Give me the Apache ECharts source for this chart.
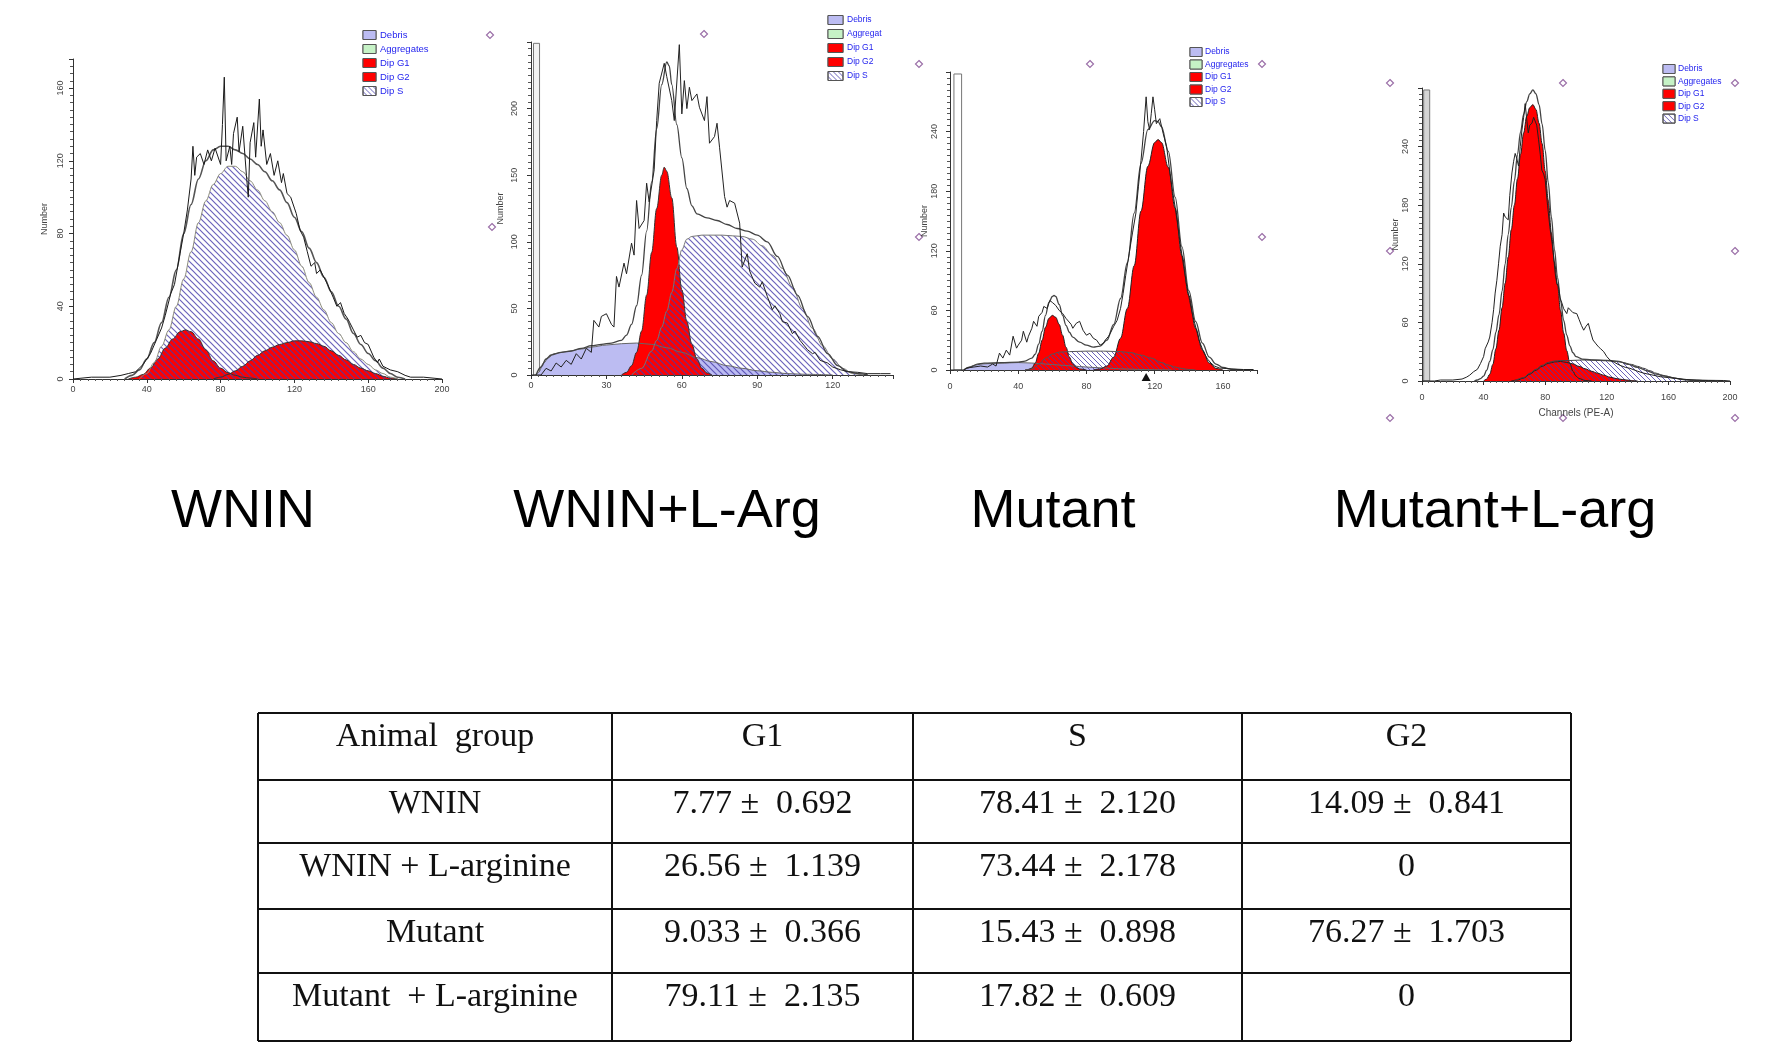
<!DOCTYPE html>
<html><head><meta charset="utf-8">
<script src="https://cdn.jsdelivr.net/npm/echarts@6/dist/echarts.min.js"></script>
<style>html,body{margin:0;padding:0;background:#fff}#c{width:1772px;height:1054px}</style>
</head><body><div id="c"></div>
<script>
// ---------------- DATA ----------------
const panelTitles = ['WNIN', 'WNIN+L-Arg', 'Mutant', 'Mutant+L-arg'];
const legendLabels = [['Debris','Aggregates','Dip G1','Dip G2','Dip S'],['Debris','Aggregat','Dip G1','Dip G2','Dip S'],['Debris','Aggregates','Dip G1','Dip G2','Dip S'],['Debris','Aggregates','Dip G1','Dip G2','Dip S']];
const yAxisName = 'Number';
const xAxisName4 = 'Channels (PE-A)';

const p1XTicks = [0, 40, 80, 120, 160, 200];
const p1YTicks = [0, 40, 80, 120, 160];
const p2XTicks = [0, 30, 60, 90, 120];
const p2YTicks = [0, 50, 100, 150, 200];
const p3XTicks = [0, 40, 80, 120, 160];
const p3YTicks = [0, 60, 120, 180, 240];
const p4XTicks = [0, 40, 80, 120, 160, 200];
const p4YTicks = [0, 60, 120, 180, 240];

// Panel 1 : WNIN
const p1Raw = [[0,0],[10,1],[20,1],[26,2],[30,3],[34,4],[38,8],[42,14],[45,21],[48,28],[50,35],[53,47],[55,52],[58,69],[60,80],[62,93],[64,110],[65,128],[66,112],[67,122],[69,124],[71,118],[73,126],[75,120],[77,127],[78,126],[80,118],[81,140],[82,166],[83,120],[85,128],[86,118],[87,135],[89,144],[90,125],[92,139],[94,112],[95,100],[96,130],[98,141],[99,122],[101,154],[102,128],[103,137],[105,118],[107,124],[109,112],[111,120],[113,108],[114,113],[116,102],[118,100],[120,94],[121,91],[123,82],[125,78],[127,70],[129,62],[131,64],[132,58],[134,60],[136,56],[138,52],[139,51],[141,45],[143,40],[145,42],[147,36],[149,33],[150,31],[152,27],[154,23],[156,24],[158,20],[160,19],[161,18],[163,12],[165,9],[166,11],[168,7],[170,6],[172,5],[176,4],[180,2],[183,1],[190,1],[200,0]];
const p1Fit = [[28,0],[32,2],[36,5],[40,11],[44,20],[48,31],[52,45],[56,60],[60,80],[64,96],[68,110],[72,120],[76,126],[80,128],[84,128],[88,126],[92,124],[96,121],[100,118],[104,114],[108,109],[112,104],[116,97],[120,89],[124,81],[128,72],[132,64],[136,56],[140,48],[144,40],[148,33],[152,25],[156,19],[160,14],[164,10],[168,6],[172,3],[176,1],[180,0]];
const p1G1 = [[30,0],[34,1],[38,2.5],[42,6],[46,11],[50,17],[54,22],[58,26],[61,27],[64,26],[68,22],[72,16],[76,10],[80,6],[84,3.5],[88,2],[92,1],[96,0.5],[100,0]];
const p1G2 = [[76,0],[80,1],[84,2.5],[88,4.5],[92,7],[96,10],[100,13],[104,15.5],[108,17.5],[112,19],[116,20],[120,21],[124,21],[128,20.5],[132,19.5],[136,18],[140,15.5],[144,13],[148,10.5],[152,8],[156,6],[160,4.5],[164,3],[168,1.5],[172,0.5],[176,0]];
const p1S = [[36,0],[40,3],[44,9],[48,18],[52,27],[56,40],[60,55],[64,70],[68,86],[72,98],[76,107],[80,113],[84,117],[88,117],[92,114],[96,109],[100,104],[104,98],[108,92],[112,86],[116,79],[120,71],[124,62],[128,53],[132,45],[136,38],[140,31],[144,25],[148,20],[152,15],[156,11],[160,8],[164,5],[168,3],[172,1],[176,0]];

// Panel 2 : WNIN + L-Arg
const p2Raw = [[0,0],[4,0],[6,5],[8,3],[10,9],[12,6],[14,11],[16,8],[18,16],[20,12],[22,20],[24,17],[25,41],[27,36],[28,44],[30,46],[32,38],[33,36],[34,74],[35,66],[37,84],[38,76],[40,99],[41,90],[42,131],[43,110],[45,116],[46,144],[47,130],[49,154],[50,191],[51,219],[53,234],[54,224],[56,206],[57,191],[59,248],[60,196],[61,221],[62,200],[63,216],[64,206],[66,211],[67,201],[69,191],[70,209],[71,174],[73,179],[74,189],[75,171],[77,134],[78,126],[79,131],[81,129],[83,114],[84,81],[86,91],[87,78],[89,69],[91,66],[92,70],[94,59],[96,49],[97,52],[99,46],[100,40],[102,39],[104,31],[105,33],[107,26],[110,19],[112,16],[113,17],[115,11],[118,9],[120,6],[123,4],[126,2.5],[130,2],[134,1],[139,1],[143,1]];
const p2Fit = [[2,0],[4,6],[6,12],[8,15],[12,17],[16,18],[20,20],[24,22],[28,23],[32,24],[36,26],[38,30],[40,38],[42,52],[44,75],[46,108],[48,145],[50,185],[52,218],[54,235],[55,232],[56,218],[58,188],[60,163],[62,140],[64,127],[66,121],[70,118],[74,116],[78,113],[82,110],[86,108],[90,105],[94,100],[98,89],[102,75],[106,60],[110,44],[114,29],[118,16],[122,7],[126,2.5],[130,1],[134,0]];
const p2Debris = [[2,0],[3,2],[5,9],[7,13],[9,16],[14,17.5],[20,19.5],[24,21],[30,22.5],[36,23.5],[42,24],[48,23],[54,20.5],[60,17],[66,13],[72,10],[78,7],[84,5],[90,3.2],[96,2],[102,1],[110,0.5],[120,0]];
const p2G1 = [[36,0],[38,2],[40,7],[42,17],[44,33],[46,60],[48,92],[50,125],[52,150],[53,156],[54,153],[56,133],[58,96],[60,64],[62,40],[64,23],[66,12],[68,5],[70,1.5],[72,0]];
const p2S = [[40,0],[44,5],[48,18],[50,26],[52,36],[54,48],[56,62],[58,80],[60,94],[62,102],[64,104],[68,105],[76,105],[84,104],[88,102],[92,97],[96,90],[100,80],[104,66],[108,50],[112,35],[116,22],[120,12],[124,5],[128,1],[132,0]];
const p2Gate = [1, 3.4];

// Panel 3 : Mutant
const p3Raw = [[0,0],[8,0],[10,2],[14,3],[18,4],[22,3],[25,6],[27,4],[29,17],[31,12],[33,20],[35,15],[37,34],[39,22],[40,25],[42,30],[43,39],[45,28],[46,34],[48,42],[49,49],[51,44],[52,54],[54,58],[55,64],[57,62],[58.5,70],[60,68],[62,65],[64,60],[66,57],[68,52],[69,50],[71,46],[72,42],[74,47],[76,49],[78,40],[80,35],[82,37],[84,32],[86,30],[88,25],[90,27],[91,30],[93,34],[94,37],[96,44],[98,50],[100,62],[101.5,77],[103,95],[105,117],[107,138],[109,158],[110.5,185],[112,211],[113.5,240],[115,275],[116,250],[117,242],[118,258],[119,275],[120,262],[121,248],[123,253],[125,238],[127,225],[129,198],[130.5,180],[132,164],[134,140],[135,127],[137,104],[138.5,88],[140.5,70],[142,57],[143.5,47],[145,37],[146,30],[148,21],[149,17],[151,11],[153,7],[155,4],[158,2],[162,1.5],[166,1],[172,0.5],[178,0.5]];
const p3Fit = [[8,0],[12,3],[16,6],[20,7],[30,7.5],[40,8],[44,9],[48,12],[50,16],[52,26],[54,39],[56,55],[58,68],[60,74],[61,75],[62,74],[64,66],[66,55],[68,45],[70,38],[72,33],[76,28],[80,25],[84,23],[88,24],[92,30],[96,46],[100,72],[104,108],[108,158],[112,208],[116,242],[120,251],[122,250],[124,245],[128,220],[132,174],[136,124],[140,80],[144,49],[148,27],[152,13],[156,6],[160,2.5],[166,0.5],[172,0]];
const p3Debris = [[8,0],[10,2],[14,4.5],[18,6],[24,6.5],[32,7],[40,7.5],[48,7],[56,6],[64,5],[72,4],[80,3],[90,2],[100,1.2],[110,0.6],[120,0.3],[130,0]];
const p3G1 = [[44,0],[46,0.5],[48,2],[50,7],[52,17],[54,30],[56,43],[58,52],[60,55],[62,53],[64,46],[66,35],[68,23],[70,13],[72,6],[74,2.5],[76,1],[80,0]];
const p3G2 = [[84,0],[88,1],[92,4],[96,13],[100,32],[104,62],[108,105],[112,160],[116,205],[120,229],[122,232],[124,229],[128,204],[132,163],[136,115],[140,75],[144,42],[148,20],[152,7],[156,1.5],[160,0]];
const p3S = [[44,0],[48,1],[52,6],[56,12],[60,16],[64,18],[70,18.5],[80,19],[90,19],[100,18.5],[106,17.5],[112,15],[118,12],[124,7.5],[128,5],[132,3],[136,1.5],[140,0.5],[144,0]];
const p3Gate = [2.3, 6.8];
const p3Marker = 115;

// Panel 4 : Mutant + L-arg
const p4Raw = [[0,0],[8,0],[12,1],[20,1],[26,2],[29,4],[31,6],[33.5,9.5],[36,12],[38,18],[40,25],[41,33],[43,40],[44,45],[45.5,60],[46.5,73],[47.5,90],[48.6,103],[49.7,120],[50.8,138],[52,150],[53,172],[54,168],[56,165],[57,190],[58.4,213],[59.5,225],[60.5,233],[61.5,228],[62.7,220],[63.8,240],[64.9,257],[66,270],[67,284],[68,268],[69,254],[70,262],[71.4,264],[72.5,270],[73.5,271],[74.5,262],[75.7,247],[76.8,232],[77.8,216],[79,212],[80,206],[81.5,180],[83,158],[85,135],[86.5,110],[87.5,100],[88.6,97],[89.7,85],[90.8,80],[92,74],[93,72],[94,69],[95,75],[96,73],[98,70],[100.5,69],[102,63],[103.5,57],[105,52],[106.5,56],[108,59],[109.5,50],[111,42],[113,38],[114.6,35],[116,33],[118,30],[120,25],[122,21.5],[125,19],[128.6,16],[132,14],[135,13],[140,10],[144,8],[150,6],[154.6,4.4],[160,3.5],[165,2.7],[172,1.5],[178,1],[186,0.7],[196,0.5],[200,0]];
const p4Fit = [[34,0],[36,1],[38,2.5],[40,5],[42,11],[44,20],[46,32],[48,50],[50,68],[52,92],[54,120],[56,150],[58,178],[60,205],[62,232],[64,255],[66,273],[68,286],[70,294],[72,298],[74,294],[76,283],[78,263],[80,236],[82,203],[84,168],[86,135],[88,106],[90,82],[92,62],[94,47],[96,36],[98,29],[100,25],[104,22.5],[110,21.5],[120,21],[128,20],[134,17],[140,14],[146,10.5],[152,7],[158,5],[164,3],[170,1.5],[176,0.8],[184,0.3],[190,0]];
const p4G1 = [[40,0],[42,2],[44,7],[46,17],[48,33],[50,52],[52,75],[54,100],[56,127],[58,155],[60,180],[62,207],[64,232],[66,254],[68,271],[70,280],[72,283],[74,278],[76,264],[78,243],[80,215],[82,185],[84,152],[86,122],[88,98],[90,72],[92,49],[94,31],[96,18],[98,10],[100,5],[102,2.5],[106,0.5],[110,0]];
const p4G2 = [[58,0],[62,1],[66,3],[70,7],[74,11],[78,15],[82,18],[86,19.5],[90,20],[94,19],[98,17.5],[102,15],[106,12.5],[110,10],[114,8],[118,6],[122,4],[126,2.5],[130,1.5],[136,0.5],[140,0]];
const p4S = [[60,0],[66,3.5],[70,8],[74,12],[78,16],[82,19],[86,20.5],[90,21],[96,21],[104,21.5],[110,21.5],[120,21],[126,20],[130,19],[136,17],[140,15],[144,13],[148,10.5],[152,8],[156,6],[160,4.5],[164,3],[168,1.8],[172,1],[176,0.5],[180,0]];
const p4Gate = [1.1, 5];

// Table
const tableHeader = ['Animal  group', 'G1', 'S', 'G2'];
const tableGroups = ['WNIN', 'WNIN + L-arginine', 'Mutant', 'Mutant  + L-arginine'];
const g1Mean = ['7.77', '26.56', '9.033', '79.11'];
const g1SD = ['0.692', '1.139', '0.366', '2.135'];
const sMean = ['78.41', '73.44', '15.43', '17.82'];
const sSD = ['2.120', '2.178', '0.898', '0.609'];
const g2Mean = ['14.09', '0', '76.27', '0'];
const g2SD = ['0.841', '', '1.703', ''];

// ---------------- STYLE / LAYOUT ----------------
function makeHatch(color, size, lw) {
  const c = document.createElement('canvas');
  c.width = size; c.height = size;
  const g = c.getContext('2d');
  g.strokeStyle = color; g.lineWidth = lw;
  g.beginPath();
  g.moveTo(-1, -1); g.lineTo(size + 1, size + 1);
  g.moveTo(-1, size - 1); g.lineTo(1, size + 1);
  g.moveTo(size - 1, -1); g.lineTo(size + 1, 1);
  g.stroke();
  return c;
}
const hatch = { image: makeHatch('rgba(70,60,170,0.8)', 6, 1.2), repeat: 'repeat' };
const hatchSmall = { image: makeHatch('rgba(70,60,170,0.8)', 5, 1), repeat: 'repeat' };

const RED = '#ff0000', LAV = '#bcbcf2', GREEN = '#c6f2c6';
const axisColor = '#333', labelColor = '#444', FONT = 'Liberation Sans';

const panels = [
  { grid: { left: 73, top: 59, width: 369, height: 320 }, xMax: 200, xInt: 40, yMax: 176, yInt: 40, xt: p1XTicks, yt: p1YTicks, nameGap: 24, yMargin: 8, xMargin: 6, legend: { bx: 363, tx: 380, y0: 35, dy: 14, bw: 13, bh: 9, fs: 9.5 } },
  { grid: { left: 531, top: 42, width: 362, height: 333 }, xMax: 144, xInt: 30, yMax: 250, yInt: 50, xt: p2XTicks, yt: p2YTicks, nameGap: 26, yMargin: 12, xMargin: 6, legend: { bx: 828, tx: 847, y0: 20, dy: 14, bw: 15, bh: 9, fs: 8.5 } },
  { grid: { left: 950, top: 72, width: 307, height: 298 }, xMax: 180, xInt: 40, yMax: 300, yInt: 60, xt: p3XTicks, yt: p3YTicks, nameGap: 16, yMargin: 11, xMargin: 12, legend: { bx: 1190, tx: 1205, y0: 52, dy: 12.5, bw: 12, bh: 9, fs: 8.5 } },
  { grid: { left: 1422, top: 88, width: 308, height: 293 }, xMax: 200, xInt: 40, yMax: 300, yInt: 60, xt: p4XTicks, yt: p4YTicks, nameGap: 22, yMargin: 12, xMargin: 12, legend: { bx: 1663, tx: 1678, y0: 69, dy: 12.4, bw: 12, bh: 9, fs: 8.5 } }
];

const titleX = [243, 667, 1053, 1495];
const titleY = 512;

const xAxes = [], yAxes = [], grids = [];
panels.forEach((p, i) => {
  grids.push(Object.assign({ containLabel: false, show: false }, p.grid));
  const tickSet = p.xt, ytSet = p.yt;
  xAxes.push({
    type: 'value', gridIndex: i, min: 0, max: p.xMax, interval: p.xInt,
    axisLine: { onZero: false, lineStyle: { color: axisColor, width: 1 } },
    axisTick: { show: true, length: 4, lineStyle: { color: axisColor } },
    minorTick: { show: true, splitNumber: 10, length: 2, lineStyle: { color: '#555' } },
    splitLine: { show: false }, minorSplitLine: { show: false },
    axisLabel: { fontSize: 9, color: labelColor, fontFamily: FONT, margin: p.xMargin,
      formatter: v => tickSet.indexOf(v) >= 0 ? String(v) : '' },
    name: i === 3 ? xAxisName4 : '', nameLocation: 'middle', nameGap: 27,
    nameTextStyle: { fontSize: 10, color: labelColor, fontFamily: FONT }
  });
  yAxes.push({
    type: 'value', gridIndex: i, min: 0, max: p.yMax, interval: p.yInt,
    axisLine: { show: true, lineStyle: { color: axisColor, width: 1 } },
    axisTick: { show: true, length: 4, lineStyle: { color: axisColor } },
    minorTick: { show: true, splitNumber: 10, length: 3, lineStyle: { color: '#555' } },
    splitLine: { show: false }, minorSplitLine: { show: false },
    axisLabel: { rotate: 90, fontSize: 9, color: labelColor, fontFamily: FONT, margin: p.yMargin,
      formatter: v => ytSet.indexOf(v) >= 0 ? String(v) : '' },
    name: yAxisName, nameLocation: 'middle', nameRotate: 90, nameGap: p.nameGap,
    nameTextStyle: { fontSize: 9, color: labelColor, fontFamily: FONT }
  });
});

function areaSeries(gi, pts, fill, stroke, extra) {
  return Object.assign({
    type: 'line', xAxisIndex: gi, yAxisIndex: gi, data: pts, symbol: 'none', showSymbol: false,
    smooth: 0.35, smoothMonotone: 'x', silent: true, animation: false,
    lineStyle: { color: stroke, width: 1 }, areaStyle: { color: fill, opacity: 1 }
  }, extra || {});
}
function lineSeries(gi, pts, color, width, smooth, extra) {
  return Object.assign({
    type: 'line', xAxisIndex: gi, yAxisIndex: gi, data: pts, symbol: 'none', showSymbol: false,
    smooth: smooth, smoothMonotone: 'x', silent: true, animation: false,
    lineStyle: { color: color, width: width }
  }, extra || {});
}
function gate(gi, range, yTop, fill) {
  return { markArea: { silent: true, itemStyle: { color: fill, borderColor: '#777', borderWidth: 1 },
    data: [[{ xAxis: range[0], yAxis: 0 }, { xAxis: range[1], yAxis: yTop }]] } };
}

const series = [
  // panel 1
  areaSeries(0, p1G1, RED, '#333'),
  areaSeries(0, p1G2, RED, '#333'),
  areaSeries(0, p1S, hatch, '#8a8a7a'),
  lineSeries(0, p1Fit, '#555', 1.6, 0.35),
  lineSeries(0, p1Raw, '#1a1a1a', 1, false),
  // panel 2
  areaSeries(1, p2Debris, LAV, '#666', gate(1, p2Gate, 249, '#f2f2f2')),
  areaSeries(1, p2G1, RED, '#333'),
  areaSeries(1, p2S, hatch, '#777'),
  lineSeries(1, p2Fit, '#444', 1.3, 0.35),
  lineSeries(1, p2Raw, '#222', 1, false),
  // panel 3
  areaSeries(2, p3Debris, LAV, '#666', gate(2, p3Gate, 298, '#ffffff')),
  areaSeries(2, p3G1, RED, '#222'),
  areaSeries(2, p3G2, RED, '#222'),
  areaSeries(2, p3S, hatchSmall, '#555'),
  lineSeries(2, p3Fit, '#444', 1.3, 0.35),
  lineSeries(2, p3Raw, '#222', 1, false, { markPoint: { silent: true, symbol: 'triangle', symbolSize: [9, 8], symbolOffset: [0, 7], itemStyle: { color: '#111' }, label: { show: false }, data: [{ coord: [p3Marker, 0] }] } }),
  // panel 4
  lineSeries(3, [[0,0]], 'rgba(0,0,0,0)', 0, false, gate(3, p4Gate, 298, '#d4d4d4')),
  areaSeries(3, p4G1, RED, '#222'),
  areaSeries(3, p4G2, RED, '#222'),
  areaSeries(3, p4S, hatchSmall, '#444'),
  lineSeries(3, p4Fit, '#444', 1.3, 0.35),
  lineSeries(3, p4Raw, '#222', 1, false)
];

// ---------------- GRAPHIC (titles, legends, table, handles) ----------------
const graphic = [];
panelTitles.forEach((t, i) => {
  graphic.push({ type: 'text', x: titleX[i], y: titleY, silent: true,
    style: { text: t, fontSize: 54, fontFamily: FONT, fill: '#000', align: 'center', verticalAlign: 'middle' } });
});
const legendFills = [LAV, GREEN, RED, RED, hatchSmall];
panels.forEach((p, i) => {
  const L = p.legend;
  legendLabels[i].forEach((lab, k) => {
    const cy = L.y0 + k * L.dy;
    graphic.push({ type: 'rect', x: L.bx, y: cy - L.bh / 2, silent: true,
      shape: { width: L.bw, height: L.bh }, style: { fill: '#fff', stroke: '#555', lineWidth: 1 } });
    graphic.push({ type: 'rect', x: L.bx, y: cy - L.bh / 2, silent: true,
      shape: { width: L.bw, height: L.bh }, style: { fill: legendFills[k], stroke: '#555', lineWidth: 1 } });
    graphic.push({ type: 'text', x: L.tx, y: cy, silent: true,
      style: { text: lab, fontSize: L.fs, fontFamily: FONT, fill: '#2424ee', align: 'left', verticalAlign: 'middle' } });
  });
});
const handlePts = [[490,35],[704,34],[492,227],[919,64],[1090,64],[1262,64],[919,237],[1262,237],[1390,83],[1563,83],[1735,83],[1390,251],[1735,251],[1390,418],[1563,418],[1735,418]];
handlePts.forEach(pt => {
  graphic.push({ type: 'polygon', x: pt[0], y: pt[1], silent: true,
    shape: { points: [[0,-3.5],[3.5,0],[0,3.5],[-3.5,0]] }, style: { fill: '#fff', stroke: '#9b6fa8', lineWidth: 1.2 } });
});

const tRows = [713, 780, 843, 909, 973, 1041];
const tCols = [258, 612, 913, 1242, 1571];
tRows.forEach(y => graphic.push({ type: 'line', silent: true, shape: { x1: tCols[0], y1: y, x2: tCols[4], y2: y }, style: { stroke: '#111', lineWidth: 2 } }));
tCols.forEach(x => graphic.push({ type: 'line', silent: true, shape: { x1: x, y1: tRows[0], x2: x, y2: tRows[5] }, style: { stroke: '#111', lineWidth: 2 } }));
const colCenters = tCols.slice(0, 4).map((x, k) => (x + tCols[k + 1]) / 2);
function cellText(txt, col, row) {
  graphic.push({ type: 'text', x: colCenters[col], y: tRows[row] + 24, silent: true,
    style: { text: txt, fontSize: 34, fontFamily: 'Liberation Serif', fill: '#111', align: 'center', verticalAlign: 'middle' } });
}
const pm = (m, s) => s ? (m + ' \u00b1  ' + s) : m;
tableHeader.forEach((h, c) => cellText(h, c, 0));
tableGroups.forEach((g, r) => {
  cellText(g, 0, r + 1);
  cellText(pm(g1Mean[r], g1SD[r]), 1, r + 1);
  cellText(pm(sMean[r], sSD[r]), 2, r + 1);
  cellText(pm(g2Mean[r], g2SD[r]), 3, r + 1);
});

const chart = echarts.init(document.getElementById('c'), null, { renderer: 'canvas' });
chart.setOption({
  backgroundColor: '#fff',
  animation: false,
  grid: grids, xAxis: xAxes, yAxis: yAxes,
  series: series,
  graphic: graphic
});
</script></body></html>
